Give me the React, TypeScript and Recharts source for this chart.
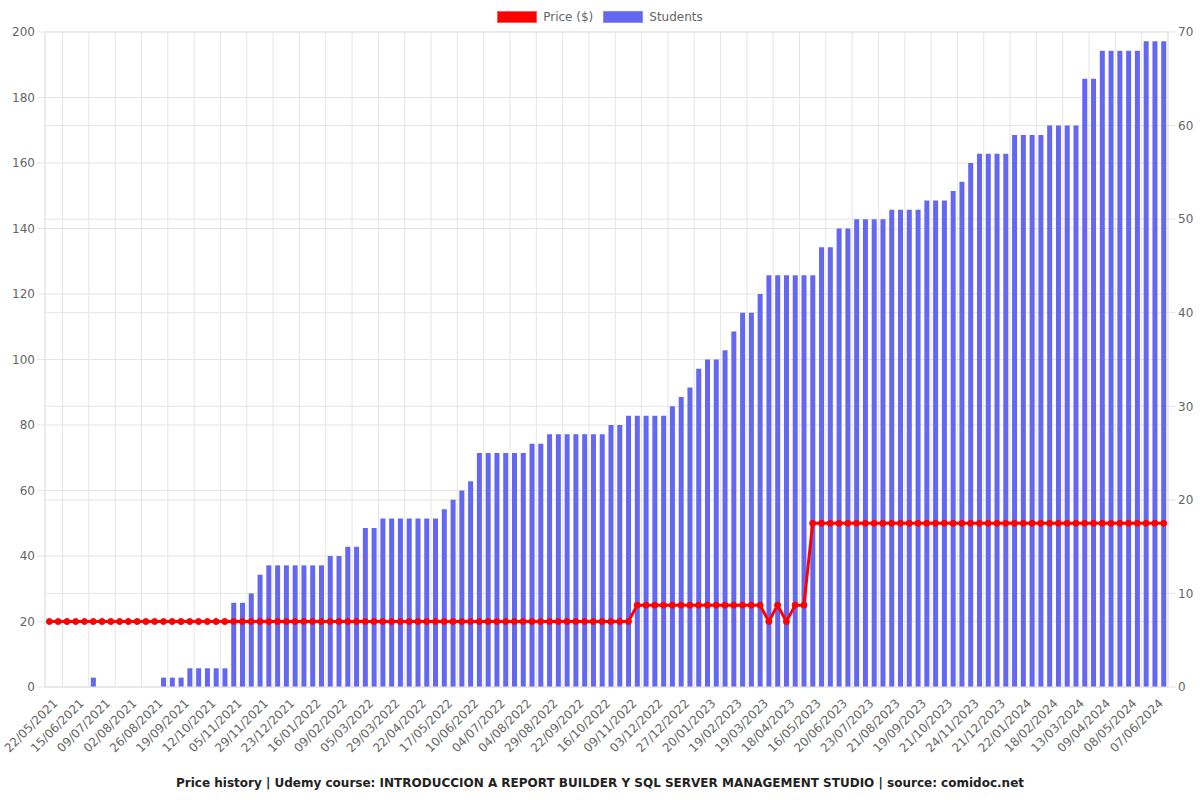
import React from 'react';
import { ComposedChart, Bar, Line, XAxis, YAxis, CartesianGrid } from 'recharts';

const dates: string[] = [
  '22/05/2021', '30/05/2021', '07/06/2021', '15/06/2021', '23/06/2021', '01/07/2021',
  '09/07/2021', '17/07/2021', '25/07/2021', '02/08/2021', '10/08/2021', '18/08/2021',
  '26/08/2021', '03/09/2021', '11/09/2021', '19/09/2021', '27/09/2021', '04/10/2021',
  '12/10/2021', '20/10/2021', '28/10/2021', '05/11/2021', '13/11/2021', '21/11/2021',
  '29/11/2021', '07/12/2021', '15/12/2021', '23/12/2021', '31/12/2021', '08/01/2022',
  '16/01/2022', '24/01/2022', '01/02/2022', '09/02/2022', '17/02/2022', '25/02/2022',
  '05/03/2022', '13/03/2022', '21/03/2022', '29/03/2022', '06/04/2022', '14/04/2022',
  '22/04/2022', '30/04/2022', '08/05/2022', '17/05/2022', '25/05/2022', '02/06/2022',
  '10/06/2022', '18/06/2022', '26/06/2022', '04/07/2022', '14/07/2022', '24/07/2022',
  '04/08/2022', '12/08/2022', '20/08/2022', '29/08/2022', '06/09/2022', '14/09/2022',
  '22/09/2022', '30/09/2022', '08/10/2022', '16/10/2022', '24/10/2022', '01/11/2022',
  '09/11/2022', '17/11/2022', '25/11/2022', '03/12/2022', '11/12/2022', '19/12/2022',
  '27/12/2022', '04/01/2023', '12/01/2023', '20/01/2023', '30/01/2023', '09/02/2023',
  '19/02/2023', '28/02/2023', '10/03/2023', '19/03/2023', '29/03/2023', '08/04/2023',
  '18/04/2023', '27/04/2023', '06/05/2023', '16/05/2023', '28/05/2023', '08/06/2023',
  '20/06/2023', '01/07/2023', '12/07/2023', '23/07/2023', '02/08/2023', '11/08/2023',
  '21/08/2023', '31/08/2023', '09/09/2023', '19/09/2023', '30/09/2023', '10/10/2023',
  '21/10/2023', '01/11/2023', '12/11/2023', '24/11/2023', '03/12/2023', '12/12/2023',
  '21/12/2023', '01/01/2024', '11/01/2024', '22/01/2024', '31/01/2024', '09/02/2024',
  '18/02/2024', '26/02/2024', '05/03/2024', '13/03/2024', '22/03/2024', '31/03/2024',
  '09/04/2024', '19/04/2024', '28/04/2024', '08/05/2024', '18/05/2024', '28/05/2024',
  '07/06/2024', '17/06/2024',
];

const students: number[] = [
  0, 0, 0, 0, 0, 1, 0, 0, 0, 0,
  0, 0, 0, 1, 1, 1, 2, 2, 2, 2,
  2, 9, 9, 10, 12, 13, 13, 13, 13, 13,
  13, 13, 14, 14, 15, 15, 17, 17, 18, 18,
  18, 18, 18, 18, 18, 19, 20, 21, 22, 25,
  25, 25, 25, 25, 25, 26, 26, 27, 27, 27,
  27, 27, 27, 27, 28, 28, 29, 29, 29, 29,
  29, 30, 31, 32, 34, 35, 35, 36, 38, 40,
  40, 42, 44, 44, 44, 44, 44, 44, 47, 47,
  49, 49, 50, 50, 50, 50, 51, 51, 51, 51,
  52, 52, 52, 53, 54, 56, 57, 57, 57, 57,
  59, 59, 59, 59, 60, 60, 60, 60, 65, 65,
  68, 68, 68, 68, 68, 69, 69, 69,
];

const prices: number[] = [
  19.99, 19.99, 19.99, 19.99, 19.99, 19.99, 19.99, 19.99, 19.99, 19.99,
  19.99, 19.99, 19.99, 19.99, 19.99, 19.99, 19.99, 19.99, 19.99, 19.99,
  19.99, 19.99, 19.99, 19.99, 19.99, 19.99, 19.99, 19.99, 19.99, 19.99,
  19.99, 19.99, 19.99, 19.99, 19.99, 19.99, 19.99, 19.99, 19.99, 19.99,
  19.99, 19.99, 19.99, 19.99, 19.99, 19.99, 19.99, 19.99, 19.99, 19.99,
  19.99, 19.99, 19.99, 19.99, 19.99, 19.99, 19.99, 19.99, 19.99, 19.99,
  19.99, 19.99, 19.99, 19.99, 19.99, 19.99, 19.99, 24.99, 24.99, 24.99,
  24.99, 24.99, 24.99, 24.99, 24.99, 24.99, 24.99, 24.99, 24.99, 24.99,
  24.99, 24.99, 19.99, 24.99, 19.99, 24.99, 24.99, 49.99, 49.99, 49.99,
  49.99, 49.99, 49.99, 49.99, 49.99, 49.99, 49.99, 49.99, 49.99, 49.99,
  49.99, 49.99, 49.99, 49.99, 49.99, 49.99, 49.99, 49.99, 49.99, 49.99,
  49.99, 49.99, 49.99, 49.99, 49.99, 49.99, 49.99, 49.99, 49.99, 49.99,
  49.99, 49.99, 49.99, 49.99, 49.99, 49.99, 49.99, 49.99,
];

const priceTicks: number[] = [0, 20, 40, 60, 80, 100, 120, 140, 160, 180, 200];
const studentTicks: number[] = [0, 10, 20, 30, 40, 50, 60, 70];
const labelEvery = 3;

const titleText =
  'Price history | Udemy course: INTRODUCCION A REPORT BUILDER Y SQL SERVER MANAGEMENT STUDIO | source: comidoc.net';

const data = dates.map((d, i) => ({ date: d, price: prices[i], students: students[i] }));

const FONT = '"DejaVu Sans", Verdana, sans-serif';
const GRID = '#e5e5e5';

const XTick = (props: any) => {
  const { x, y, payload } = props;
  return (
    <g transform={`translate(${x + 6},${y + 4})`}>
      <text
        x={0}
        y={0}
        dy="0.35em"
        textAnchor="end"
        transform="rotate(-45)"
        fill="#666"
        fontSize={12}
        fontFamily={FONT}
      >
        {payload.value}
      </text>
    </g>
  );
};

const verticalGen = ({ offset }: any) => {
  const n = data.length;
  const band = offset.width / n;
  const pts: number[] = [offset.left, offset.left + offset.width];
  for (let k = labelEvery; k < n; k += labelEvery) {
    pts.push(offset.left + (k + 0.5 - labelEvery / 2) * band);
  }
  return pts;
};

export default function App() {
  return (
    <div style={{ position: 'absolute', left: 0, top: 0, width: 1200, height: 800, background: '#fff', fontFamily: FONT }}>
      <div
        style={{
          position: 'absolute',
          top: 10,
          left: 0,
          width: 1200,
          display: 'flex',
          justifyContent: 'center',
          alignItems: 'center',
          fontSize: 12,
          color: '#666',
          zIndex: 2,
        }}
      >
        <span style={{ display: 'inline-block', width: 40, height: 12, background: '#ff0000', boxSizing: 'border-box', border: '1px solid #ff5a5a', marginRight: 6 }} />
        <span style={{ marginRight: 10, lineHeight: '14px' }}>Price ($)</span>
        <span style={{ display: 'inline-block', width: 40, height: 12, background: '#6467f0', boxSizing: 'border-box', border: '1px solid #8a8cf3', marginRight: 6 }} />
        <span style={{ lineHeight: '14px' }}>Students</span>
      </div>
      <ComposedChart
        width={1200}
        height={800}
        data={data}
        margin={{ top: 32, right: 2, bottom: 33, left: 5 }}
      >
        <CartesianGrid yAxisId="left" stroke={GRID} vertical={false} horizontal={true} />
        <CartesianGrid
          yAxisId="right"
          stroke={GRID}
          horizontal={true}
          vertical={true}
          verticalCoordinatesGenerator={verticalGen}
        />
        <XAxis
          dataKey="date"
          interval={labelEvery - 1}
          height={80}
          tickLine={false}
          tickSize={8}
          tickMargin={2}
          axisLine={{ stroke: GRID }}
          tick={<XTick />}
        />
        <YAxis
          yAxisId="left"
          orientation="left"
          width={40}
          domain={[0, 200]}
          ticks={priceTicks}
          interval={0}
          tickSize={8}
          tickMargin={2}
          tickLine={{ stroke: GRID }}
          axisLine={{ stroke: GRID }}
          tick={{ fill: '#666', fontSize: 12, fontFamily: FONT }}
        />
        <YAxis
          yAxisId="right"
          orientation="right"
          width={30}
          domain={[0, 70]}
          ticks={studentTicks}
          interval={0}
          tickSize={8}
          tickMargin={2}
          tickLine={{ stroke: GRID }}
          axisLine={{ stroke: GRID }}
          tick={{ fill: '#666', fontSize: 12, fontFamily: FONT }}
        />
        <Bar
          yAxisId="right"
          dataKey="students"
          name="Students"
          fill="#6467f0"
          barSize={5}
          isAnimationActive={false}
        />
        <Line
          yAxisId="left"
          dataKey="price"
          name="Price ($)"
          type="linear"
          stroke="#ff0000"
          strokeWidth={3}
          dot={{ r: 3, fill: '#ff0000', stroke: '#ff0000', strokeWidth: 1 }}
          activeDot={false}
          isAnimationActive={false}
        />
      </ComposedChart>
      <div
        style={{
          position: 'absolute',
          top: 775,
          left: 0,
          width: 1200,
          textAlign: 'center',
          fontWeight: 'bold',
          fontSize: 12,
          color: '#222',
          lineHeight: '16px',
        }}
      >
        {titleText}
      </div>
    </div>
  );
}
